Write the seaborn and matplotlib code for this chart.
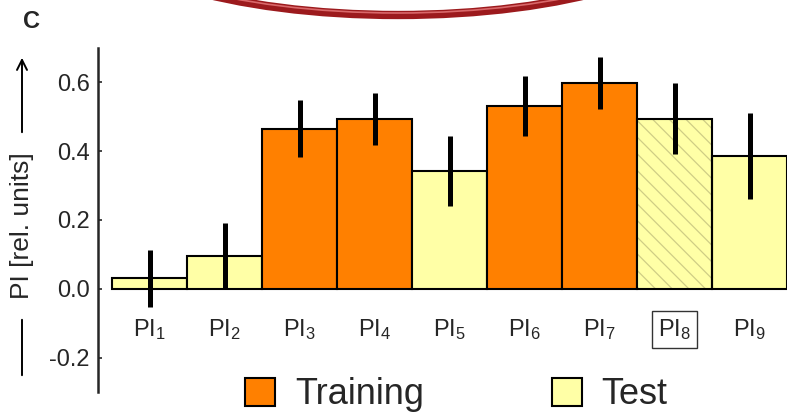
import matplotlib
matplotlib.use("Agg")
import matplotlib.pyplot as plt
import seaborn as sns
import pandas as pd
from matplotlib.patches import Patch, Ellipse, Rectangle

# values
labels = ["PI1", "PI2", "PI3", "PI4", "PI5", "PI6", "PI7", "PI8", "PI9"]
tick_text = [r"PI$_{%d}$" % i for i in range(1, 10)]
values = [0.030, 0.095, 0.465, 0.493, 0.342, 0.532, 0.598, 0.494, 0.386]
errors = [0.082, 0.095, 0.083, 0.076, 0.102, 0.088, 0.076, 0.103, 0.126]
phase = ["Test", "Test", "Training", "Training", "Test",
         "Training", "Training", "Test", "Test"]
hatched = "PI8"

ORANGE = "#ff8000"
YELLOW = "#ffffa6"
HATCH = "#cfcd85"
colors = {"Training": ORANGE, "Test": YELLOW}

sns.set_style("ticks")
plt.rcParams["font.family"] = ["Liberation Sans", "DejaVu Sans"]
plt.rcParams["mathtext.default"] = "regular"
plt.rcParams["hatch.linewidth"] = 0.9

df = pd.DataFrame({"label": labels, "value": values, "err": errors, "phase": phase})

fig = plt.figure(figsize=(7.87, 4.17), dpi=100)
ax = fig.add_axes([98 / 787, 25 / 417, 689 / 787, 344 / 417])

sns.barplot(data=df, x="label", y="value", hue="label",
            palette=[colors[p] for p in phase], saturation=1, width=1.0,
            edgecolor="black", linewidth=1.5, errorbar=None,
            legend=False, ax=ax)

# hatch colour follows the edge colour, so hatch the bar in olive
# and put the black outline back on top
for patch, lab in zip(ax.patches, labels):
    if lab == hatched:
        patch.set_hatch("\\\\")
        patch.set_edgecolor(HATCH)
        patch.set_linewidth(0)
        ax.add_patch(Rectangle((patch.get_x(), patch.get_y()),
                               patch.get_width(), patch.get_height(),
                               fill=False, ec="black", lw=1.5, zorder=patch.get_zorder()))

ax.errorbar(x=range(len(labels)), y=df["value"], yerr=df["err"],
            fmt="none", ecolor="black", elinewidth=3.6, capsize=0, zorder=5)

ax.set_xlim(-0.69, 8.5)
ax.set_ylim(-0.30, 0.70)
ax.set_yticks([-0.2, 0.0, 0.2, 0.4, 0.6])
ax.set_yticklabels(["-0.2", "0.0", "0.2", "0.4", "0.6"])
ax.tick_params(axis="y", direction="in", length=3, width=1.2, labelsize=17, pad=6)
ax.set_xticks([])
ax.set_xlabel("")
ax.set_ylabel("")
for side in ["top", "right", "bottom"]:
    ax.spines[side].set_visible(False)
ax.spines["left"].set_linewidth(1.8)

# category labels sit inside the axes, below the baseline
for i, (lab, txt) in enumerate(zip(labels, tick_text)):
    box = None
    if lab == hatched:
        box = dict(boxstyle="square,pad=0.25", fc="white", ec="#333333", lw=1.0)
    ax.text(i, -0.118, txt, ha="center", va="center", fontsize=17, bbox=box)

# y label with lines and arrow
fig.text(22 / 787, 1 - 226 / 417, "PI [rel. units]", rotation=90,
         ha="center", va="center", fontsize=19)
ax.annotate("", xy=(22, 417 - 55), xytext=(22, 417 - 135),
            xycoords="figure pixels", textcoords="figure pixels",
            arrowprops=dict(arrowstyle="->", lw=1.4, color="black",
                            mutation_scale=18))
ax.annotate("", xy=(22, 417 - 317), xytext=(22, 417 - 378),
            xycoords="figure pixels", textcoords="figure pixels",
            arrowprops=dict(arrowstyle="-", lw=1.4, color="black"))

fig.text(32 / 787, 1 - 22 / 417, "C", ha="center", va="center",
         fontsize=17, fontweight="bold")

# red ring from the picture above, cut by the top edge
ring = Ellipse((398 / 787, 1 + 80 / 417), 2 * 307 / 787, 2 * 95 / 417,
               transform=fig.transFigure, fill=False, lw=6,
               ec="#9c1a1d", clip_on=False)
fig.add_artist(ring)
ring2 = Ellipse((398 / 787, 1 + 80 / 417), 2 * 307 / 787, 2 * 93 / 417,
                transform=fig.transFigure, fill=False, lw=1.2,
                ec="#d9686a", clip_on=False)
fig.add_artist(ring2)

handles = [Patch(facecolor=ORANGE, edgecolor="black", lw=1.5, label="Training"),
           Patch(facecolor=YELLOW, edgecolor="black", lw=1.5, label="Test")]
fig.legend(handles=handles, loc="center left", ncol=2, frameon=False,
           bbox_to_anchor=(245 / 787, 1 - 395 / 417), fontsize=26,
           handlelength=0.83, handleheight=0.83, handletextpad=0.55,
           columnspacing=3.55, borderpad=0, borderaxespad=0)

fig.savefig("out.png", dpi=100)
